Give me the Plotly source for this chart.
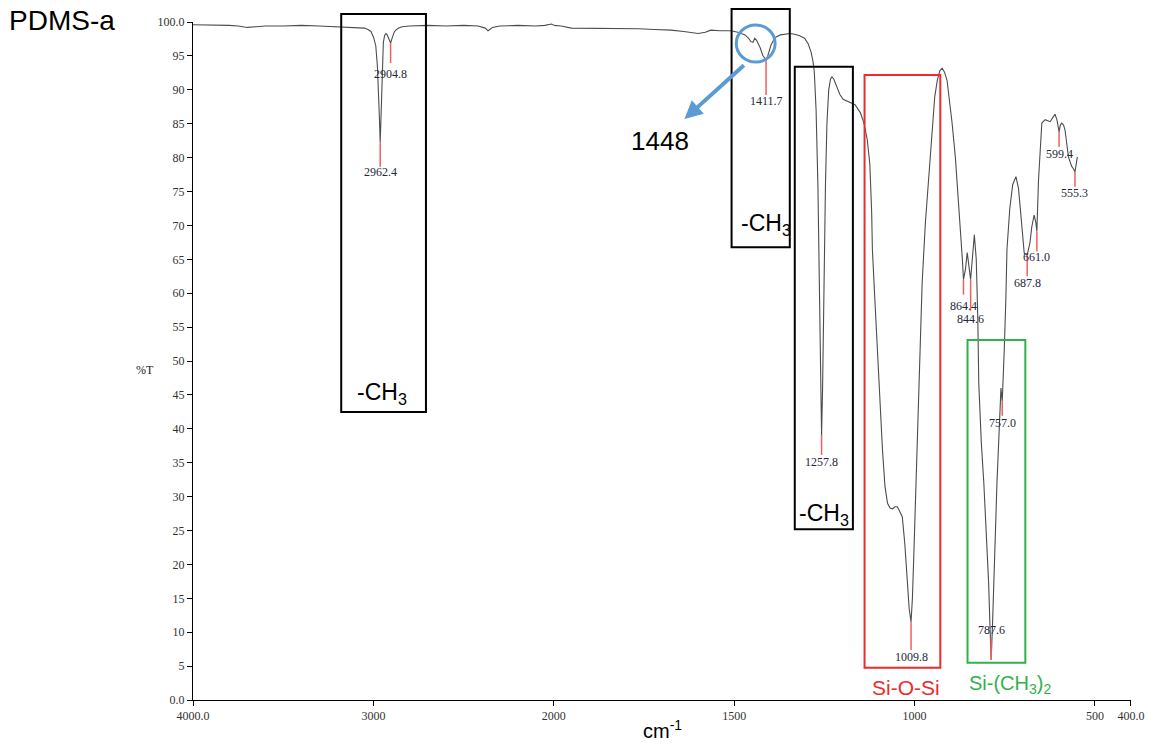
import plotly.graph_objects as go

# ---------------- data ----------------
# high-wavenumber segment (4000 -> 2000 cm-1), compressed scale
wn_high = [4000, 3900, 3800, 3750, 3700, 3650, 3600, 3500, 3400, 3300, 3200, 3100,
           3050, 3030, 3014, 3000, 2987, 2978, 2972, 2967, 2962.4, 2958, 2954, 2950,
           2945, 2938, 2931, 2924, 2917, 2911, 2904.8, 2899, 2893, 2885, 2876, 2860,
           2840, 2800, 2700, 2600, 2500, 2420, 2380, 2365, 2355, 2340, 2300, 2200,
           2100, 2050, 2013, 2000]
t_high = [99.6, 99.6, 99.5, 99.4, 99.2, 99.3, 99.4, 99.4, 99.5, 99.4, 99.3, 99.2,
          99.1, 98.9, 98.6, 97.8, 96.5, 93.5, 90.5, 86.0, 82.2, 86.0, 91.0, 94.5,
          97.0, 98.0, 98.3, 98.1, 97.6, 97.1, 96.9, 97.4, 98.0, 98.5, 98.8, 99.1,
          99.3, 99.4, 99.5, 99.4, 99.5, 99.4, 99.1, 98.7, 98.9, 99.2, 99.4, 99.5,
          99.4, 99.5, 99.7, 99.5]

# low-wavenumber segment (2000 -> 400 cm-1), expanded scale
wn_low = [2000, 1980, 1951, 1900, 1857, 1800, 1766, 1720, 1675, 1640, 1600, 1580,
          1565, 1540, 1509, 1490, 1470, 1460, 1454, 1448, 1443, 1438, 1434, 1428,
          1421, 1416, 1411.7, 1407, 1403, 1398, 1391, 1384, 1372, 1361, 1345, 1333,
          1320, 1305, 1295, 1287, 1282, 1278, 1273, 1268, 1263, 1260, 1257.8, 1255,
          1251, 1247, 1243, 1238, 1233, 1229, 1224, 1216, 1207, 1198, 1190, 1178,
          1165, 1150, 1140, 1131, 1124, 1119, 1116.9, 1110, 1103, 1096, 1089, 1082,
          1075, 1068, 1061, 1054, 1048, 1041, 1034, 1027, 1020, 1015, 1009.8, 1006,
          1002, 995, 988, 983, 979, 970, 960, 951, 944, 937, 930, 923.5, 917, 910,
          903, 896, 887, 877, 868, 864.4, 859, 854, 849, 844.6, 840, 834.3, 829, 825,
          822, 815, 808, 801, 794.6, 791, 787.6, 784, 781, 776, 771.6, 764, 760.5,
          757.0, 754, 751.4, 747, 743.9, 736, 728, 719, 712, 706, 702.5, 696, 687.8,
          680, 675, 668.5, 664, 661.0, 656.4, 651, 647.2, 638, 631, 624, 617, 610.5,
          605, 599.4, 596, 592, 587, 583, 578, 573.5, 564.4, 560, 555.3, 552, 548.7]
t_low = [99.5, 99.4, 99.1, 99.1, 99.1, 99.0, 99.0, 98.9, 98.8, 98.6, 98.3, 98.5,
         98.8, 98.7, 98.7, 98.5, 98.1, 97.6, 97.1, 97.0, 97.6, 97.3, 96.9, 96.2,
         95.1, 94.6, 94.4, 95.0, 95.8, 96.6, 97.3, 97.8, 98.1, 98.2, 98.3, 98.2,
         98.0, 97.6, 96.8, 95.6, 94.3, 92.7, 87.0, 76.0, 58.0, 46.0, 39.1, 46.0,
         62.0, 76.0, 85.0, 90.0, 91.6, 91.9, 91.6, 90.6, 89.3, 88.6, 88.4, 88.2,
         87.8, 86.6, 85.0, 82.6, 79.0, 72.0, 66.4, 59.0, 51.6, 44.0, 36.9, 31.5,
         29.0, 28.3, 28.2, 28.5, 28.5, 27.8, 27.0, 23.0, 17.2, 13.5, 11.5, 15.0,
         21.5, 34.0, 46.7, 54.0, 61.5, 70.4, 77.7, 85.1, 89.0, 91.4, 92.8, 93.2,
         92.6, 91.4, 88.5, 85.1, 80.1, 72.8, 65.4, 62.0, 63.5, 66.0, 64.0, 62.0,
         65.0, 68.6, 65.0, 57.0, 46.7, 38.0, 32.0, 24.5, 17.2, 11.0, 5.9, 11.0,
         17.2, 24.5, 32.0, 42.8, 46.0, 44.0, 47.0, 51.6, 59.0, 66.4, 72.5, 76.0,
         77.2, 75.5, 72.0, 69.3, 65.9, 65.6, 67.5, 69.8, 71.5, 70.5, 69.1, 76.7,
         82.0, 85.1, 85.6, 85.5, 85.3, 85.9, 86.4, 85.5, 83.8, 84.8, 85.1, 84.8,
         84.1, 82.0, 80.1, 78.7, 78.4, 77.9, 79.0, 80.1]

# labelled peaks
peak_labels = ["2962.4", "2904.8", "1411.7", "1257.8", "1009.8", "864.4", "844.6",
               "787.6", "757.0", "687.8", "661.0", "599.4", "555.3"]
peak_wn = [2962.4, 2904.8, 1411.7, 1257.8, 1009.8, 864.4, 844.6,
           787.6, 757.0, 687.8, 661.0, 599.4, 555.3]
peak_t = [82.2, 96.9, 94.4, 39.1, 11.5, 62.0, 62.0,
          5.9, 44.0, 65.6, 69.1, 83.8, 77.9]

# axis ticks
y_ticks = list(range(0, 101, 5))
y_ticktext = ["0.0"] + [str(v) for v in range(5, 100, 5)] + ["100.0"]
xh_ticks = [4000, 3000, 2000]
xh_text = ["4000.0", "3000", "2000"]
xl_ticks = [1500, 1000, 500, 400]
xl_text = ["1500", "1000", "500", "400.0"]

# ---------------- layout constants (pixels) ----------------
W, H = 1157, 745
ML, MR, MT, MB = 193, 23, 22, 45
PW, PH = W - ML - MR, H - MT - MB
SPLIT = 362 / PW  # fraction of plot width used for 4000-2000

# label placement (pixel offsets below peak; negative = above)
label_shift = [29, 31, 41, 27, 35, 26, 39, -30, 21, 28, 25, 22, 21]
line_len = [24, 20, 35, 20, 28, 15, 31, -22, 14, 21, 20, 15, 15]


def px(xp):
    return (xp - ML) / PW


def py(yp):
    return (H - MB - yp) / PH


LINE = "#4d4d4d"
fig = go.Figure()
fig.add_trace(go.Scatter(x=wn_high, y=t_high, mode="lines", xaxis="x", yaxis="y",
                         line=dict(color=LINE, width=1.1), hoverinfo="skip"))
fig.add_trace(go.Scatter(x=wn_low, y=t_low, mode="lines", xaxis="x2", yaxis="y",
                         line=dict(color=LINE, width=1.1), hoverinfo="skip"))

shapes = []
annotations = []
for lab, w, t, sh, ll in zip(peak_labels, peak_wn, peak_t, label_shift, line_len):
    xr = "x" if w > 2000 else "x2"
    shapes.append(dict(type="line", xref=xr, yref="y", x0=w, x1=w,
                       ysizemode="pixel", yanchor=t, y0=0, y1=-ll,
                       line=dict(color="#f06060", width=1.5), layer="above"))
    annotations.append(dict(x=w, y=t, xref=xr, yref="y", text=lab, showarrow=False,
                            yshift=-sh, xanchor="center", yanchor="middle",
                            font=dict(family="Liberation Serif", size=12,
                                      color="#26263a")))

# annotation boxes
boxes = [
    (341.7, 426.7, 14, 412, "black"),
    (733.3, 791.7, 9, 247.3, "black"),
    (796.7, 855, 66.7, 529.3, "black"),
    (866.7, 942.7, 75, 667.7, "#ee2a2a"),
    (970, 1028, 340, 662.7, "#2fb24a"),
]
for x0, x1, y0, y1, c in boxes:
    shapes.append(dict(type="rect", xref="paper", yref="paper",
                       x0=px(x0), x1=px(x1), y0=py(y1), y1=py(y0),
                       line=dict(color=c, width=2), layer="above"))

# blue circle
shapes.append(dict(type="circle", xref="paper", yref="paper",
                   x0=px(738), x1=px(777), y0=py(62), y1=py(25),
                   line=dict(color="#5b9bd5", width=3), layer="above"))

BIG = "Liberation Sans"
texts = [
    (383, 393, "-CH<sub>3</sub>", "black", 23),
    (768, 224, "-CH<sub>3</sub>", "black", 23),
    (826, 514, "-CH<sub>3</sub>", "black", 23),
    (908, 687, "Si-O-Si", "#ee2a2a", 21),
    (1013, 684, "Si-(CH<sub>3</sub>)<sub>2</sub>", "#2fb24a", 20),
    (661, 141, "1448", "black", 26),
    (62, 20, "PDMS-a", "black", 28),
    (664, 729, "cm<sup>-1</sup>", "black", 20),
]
for xp, yp, t, c, s in texts:
    annotations.append(dict(x=px(xp), y=py(yp), xref="paper", yref="paper", text=t,
                            showarrow=False, xanchor="center", yanchor="middle",
                            font=dict(family=BIG, size=s, color=c)))

annotations.append(dict(x=px(145), y=py(370), xref="paper", yref="paper", text="%T",
                        showarrow=False, xanchor="center", yanchor="middle",
                        font=dict(family="Liberation Serif", size=12, color="#222")))

# blue arrow
annotations.append(dict(x=px(686), y=py(119), xref="paper", yref="paper", text="",
                        showarrow=True, ax=61, ay=-55, axref="pixel", ayref="pixel",
                        arrowhead=2, arrowsize=0.9, arrowwidth=4,
                        arrowcolor="#5b9bd5"))

tickfont = dict(family="Liberation Serif", size=12, color="#333")
xcommon = dict(showline=True, linecolor="black", linewidth=1, ticks="outside",
               ticklen=5, tickcolor="black", showgrid=False, zeroline=False,
               tickfont=tickfont, anchor="y")

fig.update_layout(
    width=W, height=H,
    margin=dict(l=ML, r=MR, t=MT, b=MB),
    paper_bgcolor="white", plot_bgcolor="white",
    showlegend=False,
    xaxis=dict(domain=[0, SPLIT], range=[4000, 2000], tickvals=xh_ticks,
               ticktext=xh_text, **xcommon),
    xaxis2=dict(domain=[SPLIT, 1], range=[2000, 400], tickvals=xl_ticks,
                ticktext=xl_text, **xcommon),
    yaxis=dict(range=[0, 100], tickvals=y_ticks, ticktext=y_ticktext,
               showline=True, linecolor="black", linewidth=1, ticks="outside",
               ticklen=5, tickcolor="black", showgrid=False, zeroline=False,
               tickfont=tickfont, anchor="x"),
    shapes=shapes,
    annotations=annotations,
)

fig.write_html("out.html",
               config={"displayModeBar": False},
               post_script="document.body.style.margin='0';"
                           "document.body.style.overflow='hidden';")
